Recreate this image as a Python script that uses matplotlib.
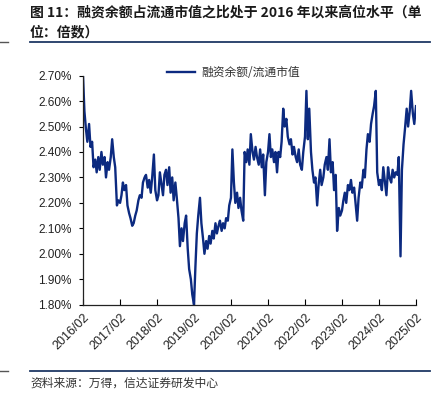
import numpy as np
import pandas as pd
import matplotlib
matplotlib.use("Agg")
import matplotlib.pyplot as plt
from matplotlib.lines import Line2D
from matplotlib.ticker import FuncFormatter

plt.rcParams['font.family'] = ['Noto Sans CJK SC', 'DejaVu Sans']

# 融资余额/流通市值 (%), semi-monthly
r_2016 = [2.70, 2.56, 2.49, 2.44, 2.51, 2.42, 2.44, 2.34, 2.37, 2.32, 2.38, 2.33,
          2.40, 2.35, 2.38, 2.30, 2.36, 2.33, 2.38, 2.45, 2.38, 2.34, 2.19, 2.21]
r_2017 = [2.20, 2.23, 2.28, 2.25, 2.27, 2.19, 2.16, 2.14, 2.11, 2.12, 2.15, 2.17,
          2.21, 2.23, 2.22, 2.28, 2.30, 2.31, 2.26, 2.29, 2.24, 2.30, 2.39, 2.25]
r_2018 = [2.21, 2.23, 2.32, 2.28, 2.23, 2.31, 2.33, 2.27, 2.34, 2.24, 2.30, 2.21,
          2.28, 2.22, 2.14, 2.03, 2.10, 2.05, 2.12, 2.15, 2.02, 1.94, 1.90, 1.84]
r_2019 = [1.80, 1.95, 2.08, 2.15, 2.22, 2.12, 2.06, 2.00, 2.05, 2.02, 2.07, 2.04,
          2.09, 2.06, 2.12, 2.08, 2.11, 2.13, 2.09, 2.12, 2.10, 2.14, 2.13, 2.19]
r_2020 = [2.22, 2.41, 2.28, 2.20, 2.24, 2.18, 2.22, 2.17, 2.13, 2.40, 2.36, 2.41,
          2.35, 2.47, 2.40, 2.37, 2.42, 2.38, 2.35, 2.41, 2.34, 2.39, 2.23, 2.36]
r_2021 = [2.40, 2.47, 2.38, 2.41, 2.36, 2.40, 2.32, 2.40, 2.38, 2.44, 2.57, 2.50,
          2.53, 2.46, 2.43, 2.45, 2.39, 2.42, 2.38, 2.36, 2.41, 2.35, 2.33, 2.40]
r_2022 = [2.46, 2.64, 2.45, 2.57, 2.40, 2.33, 2.28, 2.30, 2.19, 2.27, 2.33, 2.27,
          2.30, 2.35, 2.38, 2.33, 2.45, 2.32, 2.36, 2.25, 2.31, 2.09, 2.18, 2.15]
r_2023 = [2.17, 2.21, 2.24, 2.20, 2.27, 2.25, 2.29, 2.24, 2.26, 2.20, 2.13, 2.22,
          2.28, 2.26, 2.33, 2.30, 2.41, 2.47, 2.44, 2.51, 2.55, 2.58, 2.64, 2.32]
r_2024 = [2.27, 2.29, 2.25, 2.34, 2.28, 2.23, 2.34, 2.30, 2.28, 2.33, 2.30, 2.32,
          2.31, 2.38, 1.99, 2.33, 2.43, 2.49, 2.57, 2.50, 2.56, 2.64, 2.55, 2.51, 2.58]

ratio = r_2016 + r_2017 + r_2018 + r_2019 + r_2020 + r_2021 + r_2022 + r_2023 + r_2024
dates = pd.date_range("2016-02-01", "2025-02-01", freq="SMS")

tick_dates = pd.date_range("2016-02-01", "2025-02-01", freq="12MS")
tick_labels = [d.strftime("%Y/%m") for d in tick_dates]
y_ticks = [1.80, 1.90, 2.00, 2.10, 2.20, 2.30, 2.40, 2.50, 2.60, 2.70]

navy = "#0c2a80"
W, H = 444, 397

fig = plt.figure(figsize=(W / 100, H / 100), dpi=100)
ax = fig.add_axes([83 / W, 1 - 304.7 / H, 333 / W, (304.7 - 75.6) / H])

ax.plot(dates, ratio, color=navy, lw=1.7, label="融资余额/流通市值")

ax.set_ylim(1.80, 2.70)
ax.set_yticks(y_ticks)
ax.yaxis.set_major_formatter(FuncFormatter(lambda v, p: f"{v:.2f}%"))
ax.set_xlim(dates[0], dates[-1])
ax.set_xticks(tick_dates)
ax.set_xticklabels(tick_labels, rotation=45, ha="right", va="top",
                   rotation_mode="anchor")

for lab in ax.get_xticklabels():
    lab.set_family(["Liberation Sans", "DejaVu Sans"])
    lab.set_fontsize(9)
    lab.set_color("#222222")
for lab in ax.get_yticklabels():
    lab.set_family(["Liberation Sans", "DejaVu Sans"])
    lab.set_fontsize(8.5)
    lab.set_color("#222222")

ax.tick_params(axis="x", direction="in", length=4, width=0.8, pad=5)
ax.tick_params(axis="y", direction="out", length=3, width=0.8, pad=5)
for s in ["top", "right"]:
    ax.spines[s].set_visible(False)
for s in ["left", "bottom"]:
    ax.spines[s].set_linewidth(0.9)
    ax.spines[s].set_color("#222222")

leg = ax.legend(loc="center left", bbox_to_anchor=(167 / W, 1 - 73 / H),
                bbox_transform=fig.transFigure, frameon=False, fontsize=8.5,
                handlelength=2.4, handletextpad=0.5, borderpad=0, borderaxespad=0)
for t in leg.get_texts():
    t.set_color("#333333")

# title
fig.text(30 / W, 1 - 13 / H, "图 11：融资余额占流通市值之比处于 2016 年以来高位水平（单",
         fontsize=10, fontweight="bold", va="center", ha="left", color="#1a1a1a")
fig.text(30 / W, 1 - 32 / H, "位：倍数）",
         fontsize=10, fontweight="bold", va="center", ha="left", color="#1a1a1a")

# rules
rule_c = "#1f3864"
fig.add_artist(Line2D([30 / W, 430 / W], [1 - 42 / H] * 2, color=rule_c, lw=1.3))
fig.add_artist(Line2D([30 / W, 430 / W], [1 - 370.5 / H] * 2, color=rule_c, lw=1.3))
fig.add_artist(Line2D([0, 8 / W], [1 - 42 / H] * 2, color="#555555", lw=1.0))
fig.add_artist(Line2D([0, 8 / W], [1 - 370.5 / H] * 2, color="#555555", lw=1.0))

# source
fig.text(30 / W, 1 - 383 / H, "资料来源：万得，信达证券研发中心",
         fontsize=8.5, va="center", ha="left", color="#333333", style="italic")

fig.savefig("out.png", dpi=100)
